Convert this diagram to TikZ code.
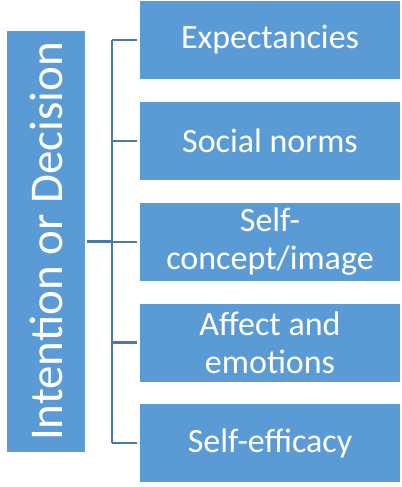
\documentclass[tikz,border=0pt]{standalone}
\usepackage{fontspec}
\setmainfont{Carlito}
\definecolor{boxblue}{RGB}{91,155,213}
\definecolor{lineblue}{RGB}{72,122,172}
\tikzset{
  box/.style={fill=boxblue, draw=none, inner sep=0pt, minimum width=260bp, minimum height=78bp,
    text=white, align=center, font=\fontsize{34bp}{38bp}\selectfont},
  bigbox/.style={fill=boxblue, draw=none, inner sep=0pt, minimum width=78bp, minimum height=421bp},
  bigtext/.style={text=white, rotate=90, inner sep=0pt, font=\fontsize{47bp}{52bp}\selectfont},
  conn/.style={draw=lineblue, line width=2.2bp}
}
\begin{document}
\begin{tikzpicture}[x=1bp, y=-1bp]
\useasboundingbox (0,0) rectangle (401,487);
\node[bigbox] (lb) at (46,241.5) {};
\node[bigtext] (lt) at (lb.center) {Intention or Decision};
\node[box] (b1) at (270,40) {Expectancies};
\node[box] (b2) at (270,141) {Social norms};
\node[box] (b3) at (270,242) {Self-\\concept/image};
\node[box] (b4) at (270,342.5) {Affect and\\emotions};
\node[box] (b5) at (270,443) {Self-efficacy};
\coordinate (bus) at (112,0);
\draw[conn] (bus |- b1.west) -- (bus |- b5.west);
\foreach \b in {b1,b2,b3,b4,b5}{
  \draw[conn, shorten <=3bp] (\b.west) -- (bus |- \b.west);
}
\draw[conn, shorten <=2bp] (lb.east) -- (bus |- lb.east);
\end{tikzpicture}
\end{document}
